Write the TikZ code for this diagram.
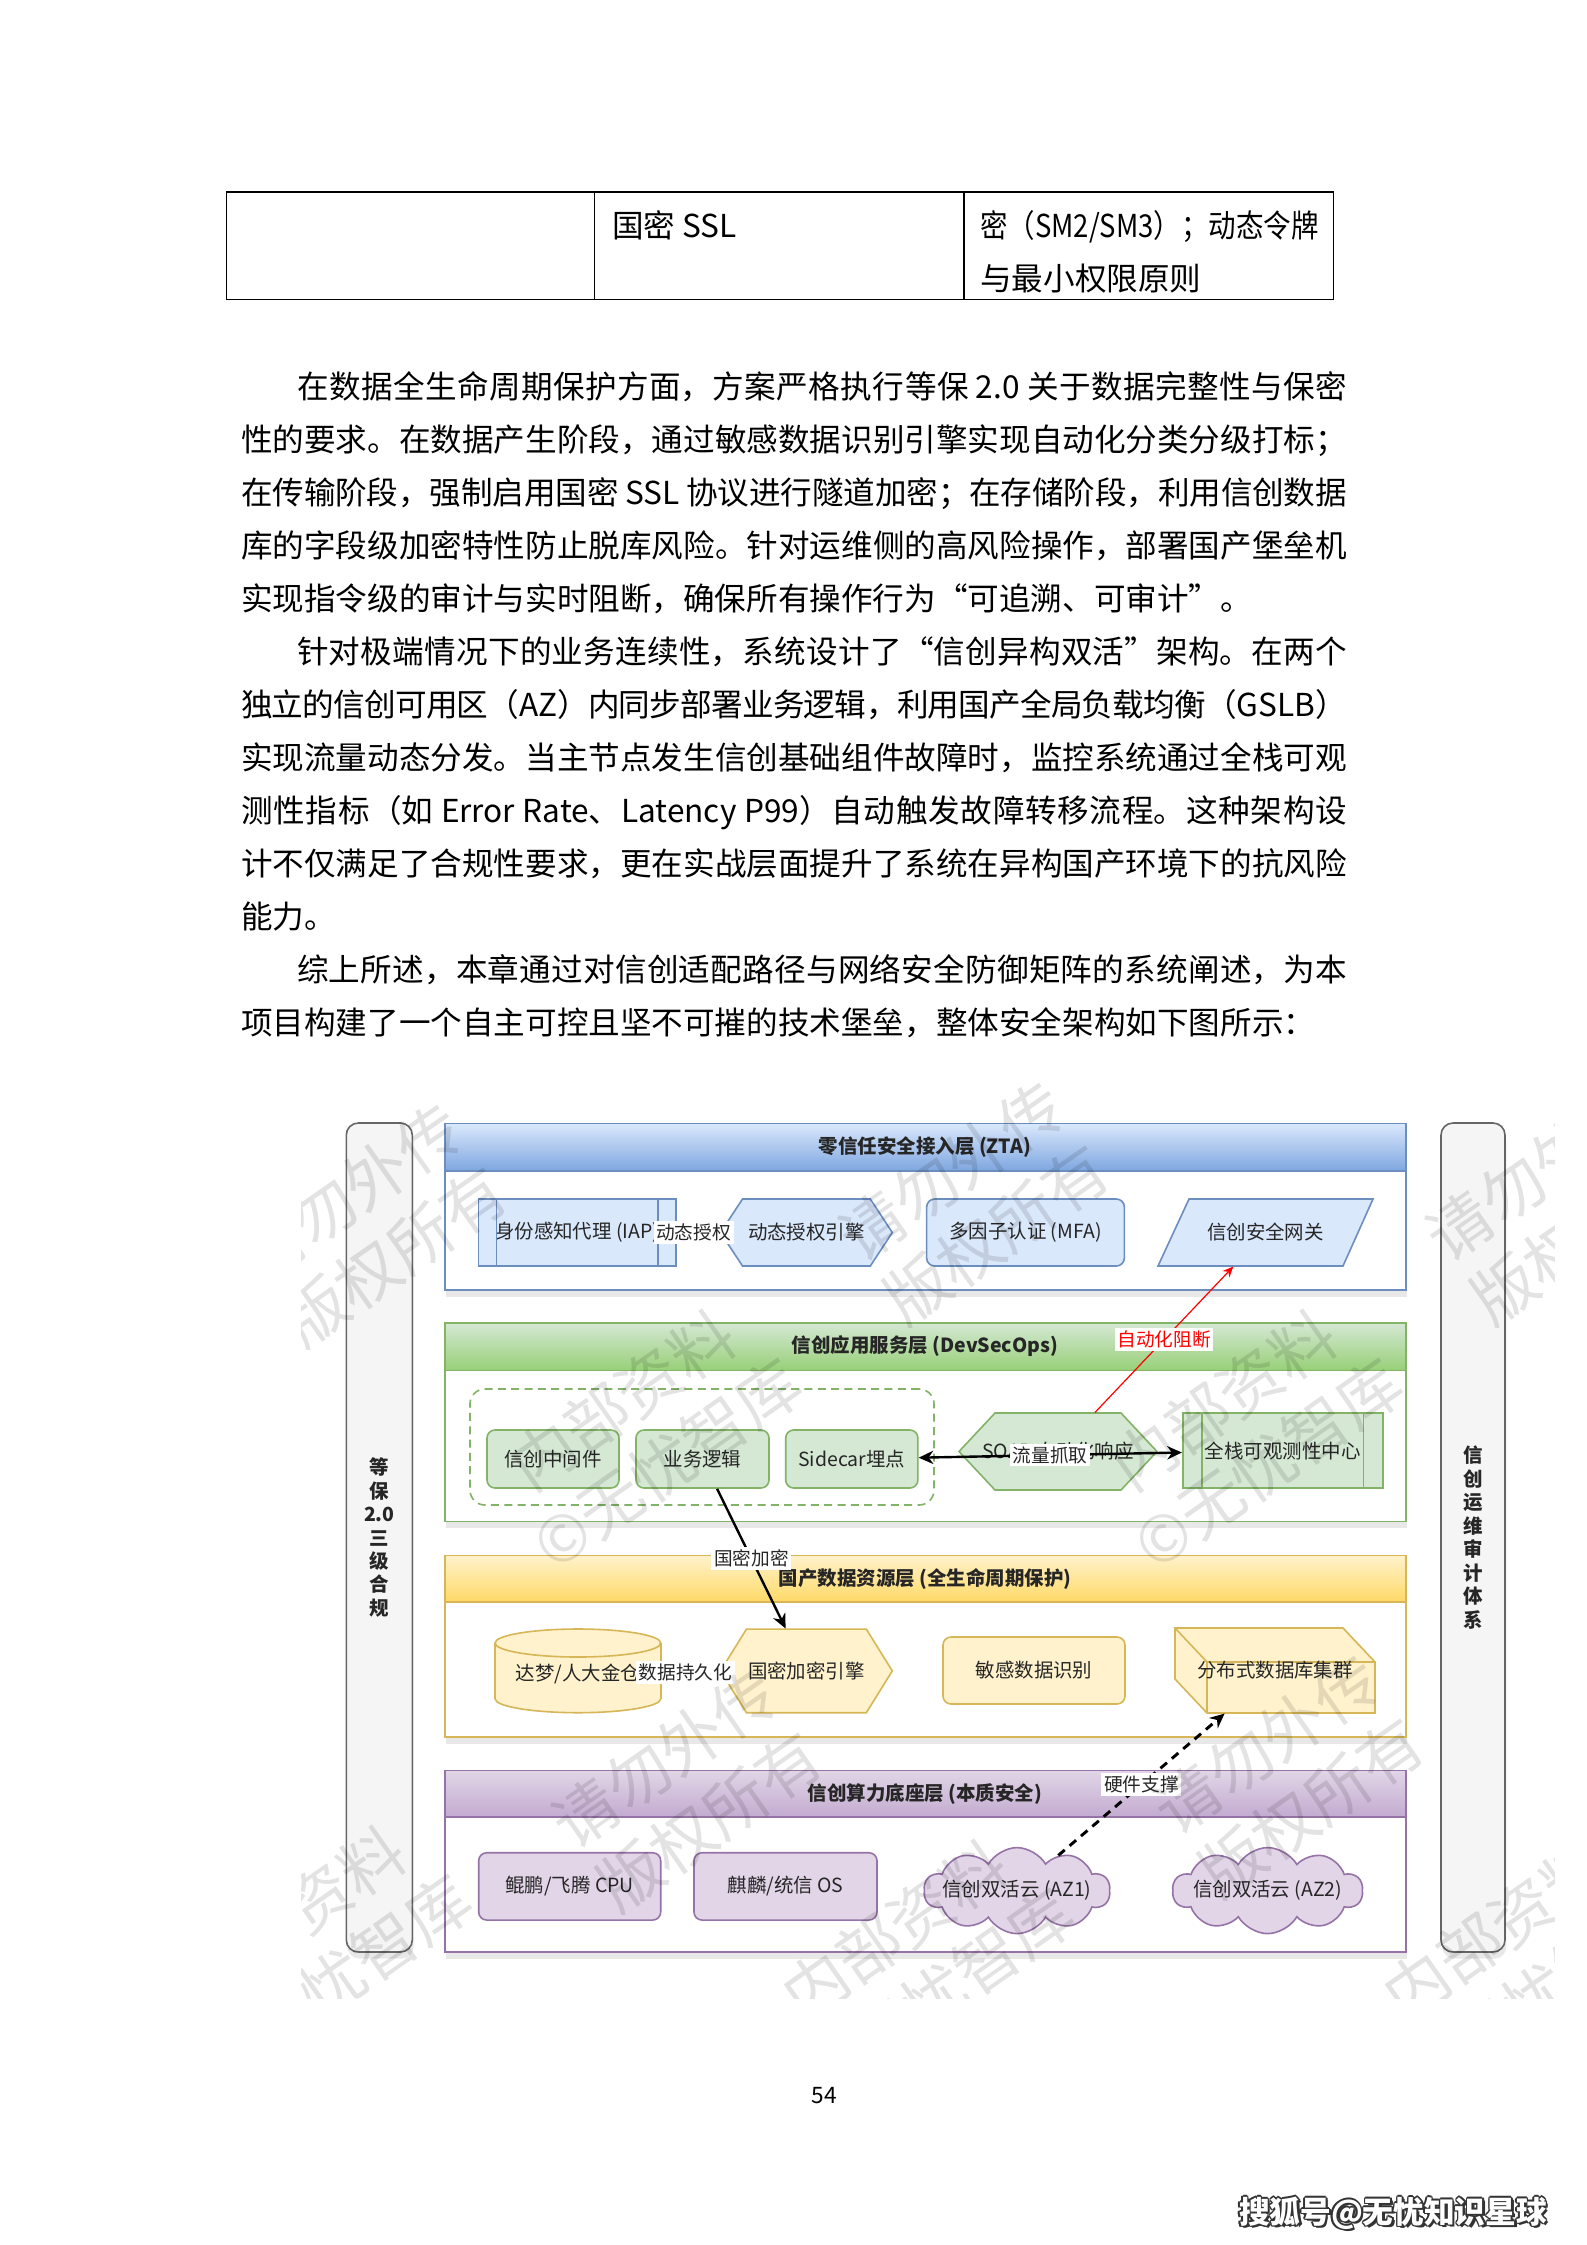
\documentclass[tikz,border=0pt]{standalone}
\usepackage{fontspec}
\setmainfont{Noto Sans CJK SC}
\usetikzlibrary{arrows.meta,shapes.symbols,shadows}
\XeTeXlinebreaklocale "zh"
\XeTeXlinebreakskip=0pt plus 2pt minus 0.4pt
\XeTeXlinebreakpenalty=10000
\definecolor{bfill}{HTML}{DAE8FC}
\definecolor{bdraw}{HTML}{6C8EBF}
\definecolor{bdark}{HTML}{7EA6E0}
\definecolor{gfill}{HTML}{D5E8D4}
\definecolor{gdraw}{HTML}{82B366}
\definecolor{gdark}{HTML}{97D077}
\definecolor{yfill}{HTML}{FFF2CC}
\definecolor{ydraw}{HTML}{D6B656}
\definecolor{ydark}{HTML}{FFD966}
\definecolor{pfill}{HTML}{E1D5E7}
\definecolor{pdraw}{HTML}{9673A6}
\definecolor{pdark}{HTML}{C3ABD0}
\definecolor{barfill}{HTML}{F5F5F5}
\definecolor{bardraw}{HTML}{666666}
\newcommand\hexpath[6]{\path[#6] ({#1-#3/2+#5},{#2-#4/2}) -- ({#1+#3/2-#5},{#2-#4/2}) -- ({#1+#3/2},{#2}) -- ({#1+#3/2-#5},{#2+#4/2}) -- ({#1-#3/2+#5},{#2+#4/2}) -- ({#1-#3/2},{#2}) -- cycle;}
\tikzset{
  sz/.style 2 args={minimum width=#1*0.3751pt, minimum height=#2*0.3751pt},
  bodytxt/.style={font=\fontsize{11.85pt}{19.88pt}\selectfont, inner sep=0pt},
  dtext/.style={font=\fontsize{7.3pt}{8.8pt}\selectfont, text=black!85, inner sep=0pt, align=center},
  hdr/.style={dtext, font=\fontsize{7.3pt}{8.8pt}\selectfont\bfseries},
  itemline/.style={line width=0.6pt},
  bitem/.style={dtext, fill=bfill, draw=bdraw, itemline},
  gitem/.style={dtext, fill=gfill, draw=gdraw, itemline},
  yitem/.style={dtext, fill=yfill, draw=ydraw, itemline},
  pitem/.style={dtext, fill=pfill, draw=pdraw, itemline},
  cloudbox/.style={pitem, cloud, cloud puffs=10, cloud puff arc=120, aspect=2.1},
  lbl/.style={font=\fontsize{7pt}{8pt}\selectfont, fill=white, inner sep=1pt, text=black!85},
  flow/.style={line width=0.9pt, -{Stealth[length=5.5pt,width=5pt]}},
  layershadow/.style={drop shadow={shadow xshift=0.5pt, shadow yshift=-2.5pt, opacity=0.18}},
  sidebar/.style={dtext, font=\fontsize{7.3pt}{8.8pt}\selectfont\bfseries, rounded corners=4.5pt, fill=barfill, draw=bardraw, line width=0.6pt, layershadow},
  wm/.style={font=\fontsize{24pt}{29pt}\selectfont, text=black, text opacity=0.11, rotate=35, align=center, inner sep=0pt},
  sohu/.style={font=\fontsize{11.5pt}{13pt}\selectfont\bfseries, inner sep=0pt}
}
\begin{document}
\begin{tikzpicture}[x=0.3751pt, y=-0.3751pt]
\useasboundingbox (0,0) rectangle (1587,2245);
\fill[white] (0,0) rectangle (1587,2245);

% ---------- table ----------
\draw[line width=0.55pt] (226.3,192) -- (1333.5,192) -- (1333.5,299.4) -- (226.3,299.4) -- cycle
  (594.4,192) -- (594.4,299.4) (964,192) -- (964,299.4);
\node[bodytxt, anchor=base west] (t1) at (611.6,237) {国密 SSL};
\node[bodytxt, anchor=base west] (t2) at (979.7,237) {\scalebox{0.87}[1]{密（SM2/SM3）；动态令牌}};
\node[bodytxt, anchor=base west] (t3) at (979.7,290) {与最小权限原则};

% ---------- body text ----------
\node[anchor=base west, inner sep=0pt] (body) at (240.6,398.7) {\parbox[t]{414.8pt}{\fontsize{11.85pt}{19.88pt}\selectfont\parindent=21pt\relax\hbadness=10000\relax
\indent 在数据全生命周期保护方面，方案严格执行等保 2.0 关于数据完整性与保密\linebreak
性的要求。在数据产生阶段，通过敏感数据识别引擎实现自动化分类分级打标；\linebreak
在传输阶段，强制启用国密 SSL 协议进行隧道加密；在存储阶段，利用信创数据\linebreak
库的字段级加密特性防止脱库风险。针对运维侧的高风险操作，部署国产堡垒机\linebreak
实现指令级的审计与实时阻断，确保所有操作行为“可追溯、可审计”。\par
\indent 针对极端情况下的业务连续性，系统设计了“信创异构双活”架构。在两个\linebreak
独立的信创可用区（AZ）内同步部署业务逻辑，利用国产全局负载均衡（GSLB）\linebreak
实现流量动态分发。当主节点发生信创基础组件故障时，监控系统通过全栈可观\linebreak
测性指标（如 Error Rate、Latency P99）自动触发故障转移流程。这种架构设\linebreak
计不仅满足了合规性要求，更在实战层面提升了系统在异构国产环境下的抗风险\linebreak
能力。\par
\indent 综上所述，本章通过对信创适配路径与网络安全防御矩阵的系统阐述，为本\linebreak
项目构建了一个自主可控且坚不可摧的技术堡垒，整体安全架构如下图所示：\par}};

% ---------- side bars ----------
\node[sidebar, sz={66}{829}] (lbar) at (379.3,1537.5) {等\\保\\2.0\\三\\级\\合\\规};
\node[sidebar, sz={64}{829}] (rbar) at (1473,1537.5) {信\\创\\运\\维\\审\\计\\体\\系};

% ---------- layers ----------
\fill[white, layershadow] (445,1123.5) rectangle (1406,1290);
\shade[top color=bfill, bottom color=bdark] (445,1123.5) rectangle (1406,1171);
\draw[bdraw, line width=0.6pt] (445,1123.5) rectangle (1406,1290) (445,1171) -- (1406,1171);
\node[hdr] (h1) at (925,1147) {零信任安全接入层 (ZTA)};

\fill[white, layershadow] (445,1323) rectangle (1406,1521.5);
\shade[top color=gfill, bottom color=gdark] (445,1323) rectangle (1406,1370.5);
\draw[gdraw, line width=0.6pt] (445,1323) rectangle (1406,1521.5) (445,1370.5) -- (1406,1370.5);
\node[hdr] (h2) at (925,1346.5) {信创应用服务层 (DevSecOps)};

\fill[white, layershadow] (445,1555.5) rectangle (1406,1737);
\shade[top color=yfill, bottom color=ydark] (445,1555.5) rectangle (1406,1602);
\draw[ydraw, line width=0.6pt] (445,1555.5) rectangle (1406,1737) (445,1602) -- (1406,1602);
\node[hdr] (h3) at (925,1579) {国产数据资源层 (全生命周期保护)};

\fill[white, layershadow] (445,1770.5) rectangle (1406,1952);
\shade[top color=pfill, bottom color=pdark] (445,1770.5) rectangle (1406,1817);
\draw[pdraw, line width=0.6pt] (445,1770.5) rectangle (1406,1952) (445,1817) -- (1406,1817);
\node[hdr] (h4) at (925,1794) {信创算力底座层 (本质安全)};

% ---------- layer 1 items ----------
\node[bitem, sz={197.6}{67}] (iap) at (577.2,1232.5) {身份感知代理 (IAP)};
\draw[bdraw, itemline] ([xshift=7.1pt]iap.north west) -- ([xshift=7.1pt]iap.south west)
  ([xshift=-7.1pt]iap.north east) -- ([xshift=-7.1pt]iap.south east);
\hexpath{806.4}{1232.5}{171.8}{67}{22}{fill=bfill, draw=bdraw, itemline}
\node[dtext, sz={171.8}{67}] (eng1) at (806.4,1232.5) {动态授权引擎};
\node[bitem, rounded corners=3pt, sz={197.7}{67}] (mfa) at (1025.5,1232.5) {多因子认证 (MFA)};
\path[fill=bfill, draw=bdraw, itemline] (1189,1199) -- (1373,1199) -- (1343,1266) -- (1158,1266) -- cycle;
\node[dtext, sz={215}{67}] (gw) at (1265.5,1232.5) {信创安全网关};

% ---------- layer 2 items ----------
\node[draw=gdraw, dash pattern=on 3pt off 2pt, rounded corners=5.6pt, line width=0.6pt, sz={464}{116}] (grp) at (702,1447) {};
\node[gitem, rounded corners=3pt, sz={132}{58}] (mid) at (553,1459) {信创中间件};
\node[gitem, rounded corners=3pt, sz={133}{58}] (biz) at (702.5,1459) {业务逻辑};
\node[gitem, rounded corners=3pt, sz={132.2}{58}] (side) at (851.8,1459) {Sidecar埋点};
\hexpath{1058}{1451.5}{198}{77}{36}{fill=gfill, draw=gdraw, itemline}
\node[dtext, sz={198}{77}] (so) at (1058,1451.5) {SOAR 自动化响应};
\node[gitem, sz={200}{75}] (obs) at (1282.7,1450.5) {全栈可观测性中心};
\draw[gdraw, itemline] ([xshift=7.5pt]obs.north west) -- ([xshift=7.5pt]obs.south west)
  ([xshift=-7.5pt]obs.north east) -- ([xshift=-7.5pt]obs.south east);

% ---------- layer 3 items ----------
\path[fill=yfill, draw=ydraw, itemline] (577.9,1698.7) ellipse [x radius=82.85, y radius=14];
\fill[yfill] (495,1643) rectangle (660.7,1698.7);
\draw[ydraw, itemline] (495,1643) -- (495,1698.7) (660.7,1643) -- (660.7,1698.7);
\path[fill=yfill, draw=ydraw, itemline] (577.9,1643) ellipse [x radius=82.85, y radius=14];
\node[dtext, sz={165.7}{83.7}] (dm) at (577.9,1674) {达梦/人大金仓};
\hexpath{806.4}{1670.9}{171.8}{83.7}{26}{fill=yfill, draw=ydraw, itemline}
\node[dtext, sz={171.8}{83.7}] (eng2) at (806.4,1670.9) {国密加密引擎};
\node[yitem, rounded corners=3pt, sz={182}{67}] (sens) at (1034,1670.5) {敏感数据识别};
\path[fill=yfill, draw=ydraw, itemline] (1175,1628) -- (1343,1628) -- (1375,1662) -- (1375,1713) -- (1207,1713) -- (1175,1679) -- cycle;
\draw[ydraw, itemline] (1175,1628) -- (1207,1662) -- (1375,1662) (1207,1662) -- (1207,1713);
\node[dtext, sz={200}{85}] (cube) at (1275,1670.5) {分布式数据库集群};

% ---------- layer 4 items ----------
\node[pitem, rounded corners=3pt, sz={182}{67.3}] (cpu) at (569.7,1886.4) {鲲鹏/飞腾 CPU};
\node[pitem, rounded corners=3pt, sz={183}{67.3}] (os) at (785.5,1886.4) {麒麟/统信 OS};
\node[cloudbox, sz={186}{86}] (az1) at (1017,1890.6) {};
\node[dtext] (az1t) at (az1.center) {信创双活云 (AZ1)};
\node[cloudbox, sz={190}{86}] (az2) at (1267.6,1890.6) {};
\node[dtext] (az2t) at (az2.center) {信创双活云 (AZ2)};

% ---------- connectors ----------
\draw[flow] (iap) -- node[lbl, pos=0.39]{动态授权} (eng1);
\draw[line width=0.9pt, {Stealth[length=5.5pt,width=5pt]}-{Stealth[length=5.5pt,width=5pt]}] (side) -- node[lbl]{流量抓取} (obs);
\draw[red, line width=0.45pt, -{Stealth[length=4pt,width=3.5pt]}] (so) -- node[lbl, text=red]{自动化阻断} (gw);
\draw[flow] (biz) -- node[lbl]{国密加密} (eng2);
\draw[flow] (dm) -- node[lbl, pos=0.41]{数据持久化} (eng2);
\draw[flow, line width=1.1pt, dash pattern=on 3.2pt off 2.4pt] (az1) -- node[lbl]{硬件支撑} (cube);

% ---------- watermark ----------
\begin{scope}
\clip (301,1074) rectangle (1554,1998);
\node[wm] (wb1) at (372,1225) {请勿外传\\版权所有};
\node[wm] (wb2) at (974,1203) {请勿外传\\版权所有};
\node[wm] (wb3) at (1561,1203) {请勿外传\\版权所有};
\node[wm] (wb4) at (687,1790) {请勿外传\\版权所有};
\node[wm] (wb5) at (1289,1776) {请勿外传\\版权所有};
\node[wm] (wb6) at (86,1790) {请勿外传\\版权所有};
\node[wm] (wa1) at (645,1432) {内部资料\\©无忧智库};
\node[wm] (wa2) at (1246,1432) {内部资料\\©无忧智库};
\node[wm] (wa3) at (43,1432) {内部资料\\©无忧智库};
\node[wm] (wa4) at (315,1948) {内部资料\\©无忧智库};
\node[wm] (wa5) at (917,1962) {内部资料\\©无忧智库};
\node[wm] (wa6) at (1518,1962) {内部资料\\©无忧智库};
\end{scope}

% ---------- page number and footer ----------
\node[font=\fontsize{8.5pt}{10pt}\selectfont, inner sep=0pt] (pg) at (824,2096) {54};
\foreach \dx/\dy [count=\i] in {-1.6/0,1.6/0,0/-1.6,0/1.6,-1.2/-1.2,1.2/1.2,-1.2/1.2,1.2/-1.2,2.4/2.4}
  \node[sohu, text=black!80] (shd\i) at (1393+\dx,2213+\dy) {搜狐号@无忧知识星球};
\node[sohu, text=white] (sohu) at (1393,2213) {搜狐号@无忧知识星球};
\end{tikzpicture}
\end{document}
